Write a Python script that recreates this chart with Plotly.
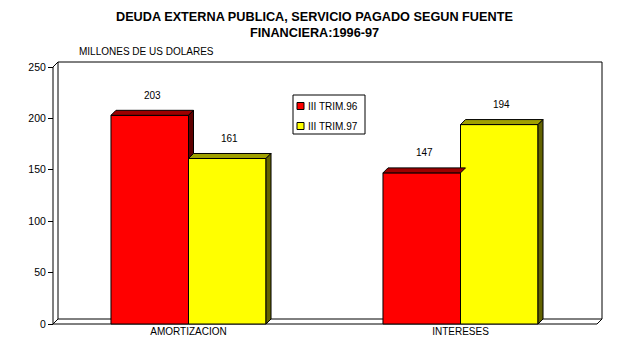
import plotly.graph_objects as go

# ---------------- data ----------------
categories = ["AMORTIZACION", "INTERESES"]
series_names = ["III TRIM.96", "III TRIM.97"]
values_96 = [203, 147]
values_97 = [161, 194]
y_ticks = [0, 50, 100, 150, 200, 250]

title_lines = ["DEUDA EXTERNA PUBLICA, SERVICIO PAGADO SEGUN FUENTE", "FINANCIERA:1996-97"]
unit_label = "MILLONES DE US DOLARES"

front_colors = ["#FF0000", "#FFFF00"]
top_colors = ["#9C0000", "#A0A000"]
side_colors = ["#5E0000", "#626200"]

# ---------------- geometry ----------------
W, H = 628, 355
L, R, T, B = 48, 606, 58, 327      # plot area (px)
CAT0_PX = 188.5                    # pixel of first category centre
PX_PER_X = 272.0
ZERO_PX = 324.0
PX_PER_Y = 1.028
DEPTH = 5.0
AXIS_PX = 53.0
BACK_RIGHT_PX = 602.0
BAR_W = 0.285
FONT = "Liberation Sans, Arial, sans-serif"

xr = [(L - CAT0_PX) / PX_PER_X, (R - CAT0_PX) / PX_PER_X]
yr = [(ZERO_PX - B) / PX_PER_Y, (ZERO_PX - T) / PX_PER_Y]
DX = DEPTH / PX_PER_X
DY = DEPTH / PX_PER_Y
ax_x = (AXIS_PX - CAT0_PX) / PX_PER_X
back_r = (BACK_RIGHT_PX - CAT0_PX) / PX_PER_X
ymax = max(y_ticks)


def pxx(p):
    return (p - L) / (R - L)


def pxy(p):
    return (B - p) / (B - T)


fig = go.Figure()
series = [values_96, values_97]
offsets = [-BAR_W, 0.0]
xs = list(range(len(categories)))

for s, vals in enumerate(series):
    fig.add_trace(go.Bar(
        x=xs, y=vals, name=series_names[s], width=BAR_W, offset=offsets[s],
        marker=dict(color=front_colors[s], line=dict(color="black", width=1)),
        showlegend=False, hoverinfo="y",
    ))

shapes = []
line_k = dict(color="black", width=1)
# back wall + floor
shapes.append(dict(type="path", xref="x", yref="y", layer="below",
                   path=f"M{ax_x+DX},{DY} L{back_r},{DY} L{back_r},{ymax+DY} L{ax_x+DX},{ymax+DY} Z",
                   line=line_k, fillcolor="white"))
shapes.append(dict(type="path", xref="x", yref="y", layer="below",
                   path=f"M{ax_x},0 L{back_r-DX},0 L{back_r},{DY}",
                   line=line_k))
shapes.append(dict(type="line", xref="x", yref="y", layer="below",
                   x0=ax_x, y0=0, x1=ax_x, y1=ymax, line=line_k))
shapes.append(dict(type="line", xref="x", yref="y", layer="below",
                   x0=ax_x, y0=0, x1=ax_x + DX, y1=DY, line=line_k))
shapes.append(dict(type="line", xref="x", yref="y", layer="below",
                   x0=ax_x, y0=ymax, x1=ax_x + DX, y1=ymax + DY, line=line_k))

annotations = []
for i in xs:
    for s, vals in enumerate(series):
        v = vals[i]
        x0 = i + offsets[s]
        x1 = x0 + BAR_W
        # top face
        shapes.append(dict(type="path", xref="x", yref="y", layer="above",
                           path=f"M{x0},{v} L{x0+DX},{v+DY} L{x1+DX},{v+DY} L{x1},{v} Z",
                           fillcolor=top_colors[s], line=line_k))
        # side face (only the part not hidden by the next bar)
        if s + 1 < len(series):
            nxt = series[s + 1][i]
            if nxt < v:
                shapes.append(dict(type="path", xref="x", yref="y", layer="above",
                                   path=f"M{x1},{v} L{x1+DX},{v+DY} L{x1+DX},{nxt+DY} L{x1},{nxt} Z",
                                   fillcolor=side_colors[s], line=line_k))
        else:
            shapes.append(dict(type="path", xref="x", yref="y", layer="above",
                               path=f"M{x1},{v} L{x1+DX},{v+DY} L{x1+DX},{DY} L{x1},0 Z",
                               fillcolor=side_colors[s], line=line_k))
        annotations.append(dict(x=(x0 + x1) / 2 + DX / 2, y=v + 20 / PX_PER_Y,
                                xref="x", yref="y", text=str(v), showarrow=False,
                                font=dict(family=FONT, size=10, color="black")))

# legend (drawn manually)
LEG = dict(left=293, top=95, right=365, bottom=134, sq_l=297, sq=7, text_l=306, rows=[106, 126])
shapes.append(dict(type="rect", xref="paper", yref="paper",
                   x0=pxx(LEG["left"]), x1=pxx(LEG["right"]),
                   y0=pxy(LEG["bottom"]), y1=pxy(LEG["top"]),
                   line=line_k, fillcolor="white", layer="above"))
for s, name in enumerate(series_names):
    cy = LEG["rows"][s]
    shapes.append(dict(type="rect", xref="paper", yref="paper",
                       x0=pxx(LEG["sq_l"]), x1=pxx(LEG["sq_l"] + LEG["sq"]),
                       y0=pxy(cy + LEG["sq"] / 2), y1=pxy(cy - LEG["sq"] / 2),
                       line=line_k, fillcolor=front_colors[s], layer="above"))
    annotations.append(dict(x=pxx(LEG["text_l"]), y=pxy(cy), xref="paper", yref="paper",
                            xanchor="left", yanchor="middle", text=name, showarrow=False,
                            font=dict(family=FONT, size=10, color="black")))

annotations.append(dict(x=pxx(77), y=pxy(52), xref="paper", yref="paper",
                        xanchor="left", yanchor="middle", text=unit_label, showarrow=False,
                        font=dict(family=FONT, size=10, color="black")))

# title lines
for k, (line_txt, cy) in enumerate(zip(title_lines, [17, 33])):
    annotations.append(dict(x=pxx(314), y=pxy(cy), xref="paper", yref="paper",
                            xanchor="center", yanchor="middle", text=f"<b>{line_txt}</b>",
                            showarrow=False,
                            font=dict(family=FONT, size=12.7, color="black")))

fig.update_layout(
    width=W, height=H,
    margin=dict(l=L, r=W - R, t=T, b=H - B, autoexpand=False),
    paper_bgcolor="white", plot_bgcolor="white",
    barmode="overlay",
    showlegend=False,
    shapes=shapes,
    annotations=annotations,
    xaxis=dict(range=xr, tickvals=xs, ticktext=categories, showgrid=False, zeroline=False,
               showline=False, ticks="", anchor="free", position=pxy(ZERO_PX),
               tickfont=dict(family=FONT, size=10, color="black")),
    yaxis=dict(range=yr, tickvals=y_ticks, showgrid=False, zeroline=False, showline=False,
               ticks="outside", ticklen=5, tickcolor="black", tickwidth=1,
               anchor="free", position=pxx(AXIS_PX),
               tickfont=dict(family=FONT, size=10.5, color="black")),
)

fig.write_html("out.html", config={"displayModeBar": False},
               post_script="document.body.style.margin='0';")
